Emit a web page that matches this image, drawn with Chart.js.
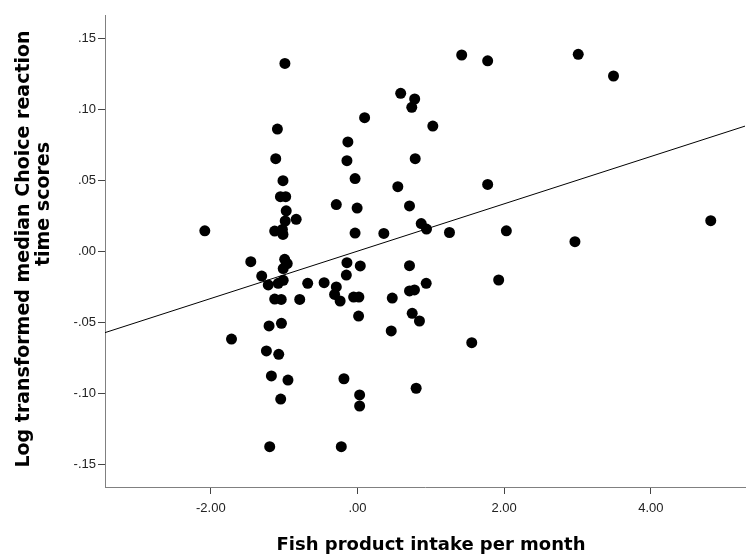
<!DOCTYPE html>
<html>
<head>
<meta charset="utf-8">
<script src="https://cdn.jsdelivr.net/npm/chart.js@4.4.1/dist/chart.umd.min.js"></script>
<style>
  html, body { margin: 0; padding: 0; background: #fff; }
  canvas { display: block; }
</style>
</head>
<body>
<canvas id="fish_chart" width="746" height="555"></canvas>
<script>
// values
const fishIntake = [
  -0.99, 0.589, 0.78, 0.74, 0.097, 1.027, -1.092, -0.131, -1.115, -0.144,
  0.787, -1.016, -0.033, 0.55, -1.051, -0.979, -0.289, -0.005, 0.709, -0.972,
  -0.986, -0.836, -2.082, -1.129, -1.024, -1.016, -0.033, 0.359, 0.869, 0.941,
  1.254, 2.03, 1.421, 1.775, 3.01, 3.491, 1.775, 2.965, 4.817, -1.455,
  -0.993, -0.958, -1.013, -1.306, -1.217, -1.081, -1.013, -0.679, -0.455, -0.289,
  -0.312, -0.237, -0.144, 0.038, -0.152, -1.129, -1.04, -0.788, -0.053, 0.019,
  0.474, 0.709, 0.709, 0.777, 0.937, 0.015, 0.746, 0.845, 0.46, -1.206,
  -1.037, -1.718, -1.242, -1.074, -1.174, -0.948, -0.185, 0.8, 0.029, 0.029,
  -1.047, -1.197, -0.221, 1.925, 1.558
];
const reactionScores = [
  0.1324, 0.1113, 0.1073, 0.1014, 0.0941, 0.0882, 0.0861, 0.077, 0.0652, 0.0638,
  0.0652, 0.0497, 0.0512, 0.0455, 0.0384, 0.0384, 0.0329, 0.0304, 0.0319, 0.0285,
  0.0213, 0.0225, 0.0144, 0.0142, 0.0153, 0.0118, 0.0128, 0.0125, 0.0195, 0.0156,
  0.0132, 0.0144, 0.1383, 0.1342, 0.1388, 0.1235, 0.0471, 0.0067, 0.0215, -0.0074,
  -0.0057, -0.0087, -0.0122, -0.0175, -0.0238, -0.0226, -0.0205, -0.0226, -0.0222, -0.0252,
  -0.0305, -0.0351, -0.0081, -0.0104, -0.0168, -0.0337, -0.034, -0.034, -0.0323, -0.0323,
  -0.033, -0.0102, -0.028, -0.0273, -0.0226, -0.0457, -0.0438, -0.0492, -0.0562, -0.0527,
  -0.0508, -0.0619, -0.0703, -0.0727, -0.0879, -0.0908, -0.0899, -0.0966, -0.1013, -0.1091,
  -0.1042, -0.1378, -0.1378, -0.0203, -0.0645
];

const xTickValues = [-2, 0, 2, 4];
const xTickLabels = ['-2.00', '.00', '2.00', '4.00'];
const yTickValues = [-0.15, -0.10, -0.05, 0, 0.05, 0.10, 0.15];
const yTickLabels = ['-.15', '-.10', '-.05', '.00', '.05', '.10', '.15'];

const xMin = -3.443, xMax = 5.284;
const yMin = -0.1662, yMax = 0.1665;

// fit line
const fitIntercept = 0.00004;
const fitSlope = 0.01668;

const xTitle = 'Fish product intake per month';
const yTitleLines = ['Log transformed median Choice reaction', 'time scores'];

let points = [];
for (let i = 0; i < fishIntake.length; i++) {
    points.push({ x: fishIntake[i], y: reactionScores[i] });
}
const fitLine = [xMin, xMax].map(x => ({ x: x, y: fitIntercept + fitSlope * x }));

const axisTitles = {
    id: 'axisTitles',
    afterDraw(chart) {
        const ctx = chart.ctx;
        const area = chart.chartArea;
        ctx.save();
        ctx.fillStyle = '#000';
        ctx.font = 'bold 18px "DejaVu Sans"';
        ctx.textAlign = 'center';
        ctx.textBaseline = 'middle';
        ctx.fillText(xTitle, 431, 545);
        ctx.restore();

        ctx.save();
        ctx.fillStyle = '#000';
        ctx.font = 'bold 19px "DejaVu Sans"';
        ctx.textAlign = 'center';
        ctx.textBaseline = 'middle';
        ctx.translate(24, area.top + 234);
        ctx.rotate(-Math.PI / 2);
        ctx.fillText(yTitleLines[0], 0, 0);
        ctx.restore();

        ctx.save();
        ctx.fillStyle = '#000';
        ctx.font = 'bold 19px "DejaVu Sans"';
        ctx.textAlign = 'center';
        ctx.textBaseline = 'middle';
        ctx.translate(44, area.top + 189);
        ctx.rotate(-Math.PI / 2);
        ctx.fillText(yTitleLines[1], 0, 0);
        ctx.restore();
    }
};

new Chart('fish_chart', {
    type: 'scatter',
    data: {
        datasets: [{
            type: 'line',
            data: fitLine,
            borderColor: '#000',
            borderWidth: 1,
            pointRadius: 0,
            fill: false,
            tension: 0
        }, {
            data: points,
            backgroundColor: '#000',
            borderColor: '#000',
            borderWidth: 0,
            pointRadius: 5.5,
            pointHoverRadius: 5.5
        }]
    },
    options: {
        responsive: false,
        animation: false,
        devicePixelRatio: 1,
        layout: { autoPadding: false, padding: { top: 15, right: 1, left: 0, bottom: 0 } },
        plugins: {
            legend: { display: false },
            title: { display: false },
            tooltip: { enabled: false }
        },
        scales: {
            x: {
                type: 'linear',
                min: xMin,
                max: xMax,
                afterBuildTicks: s => { s.ticks = xTickValues.map(v => ({ value: v })); },
                afterFit: s => { s.height = 68; },
                ticks: {
                    callback: v => xTickLabels[xTickValues.indexOf(v)],
                    font: { family: 'Liberation Sans', size: 13 },
                    color: '#222',
                    padding: 7,
                    maxRotation: 0,
                    autoSkip: false
                },
                grid: { drawOnChartArea: false, drawTicks: true, tickLength: 7, color: '#444' },
                border: { display: true, color: '#808080', width: 1 }
            },
            y: {
                type: 'linear',
                min: yMin,
                max: yMax,
                afterBuildTicks: s => { s.ticks = yTickValues.map(v => ({ value: v })); },
                afterFit: s => { s.width = 105; },
                ticks: {
                    callback: v => yTickLabels[yTickValues.indexOf(v)],
                    font: { family: 'Liberation Sans', size: 13 },
                    color: '#222',
                    padding: 2,
                    autoSkip: false
                },
                grid: { drawOnChartArea: false, drawTicks: true, tickLength: 7, color: '#444' },
                border: { display: true, color: '#808080', width: 1 }
            }
        }
    },
    plugins: [axisTitles]
});
</script>
</body>
</html>
